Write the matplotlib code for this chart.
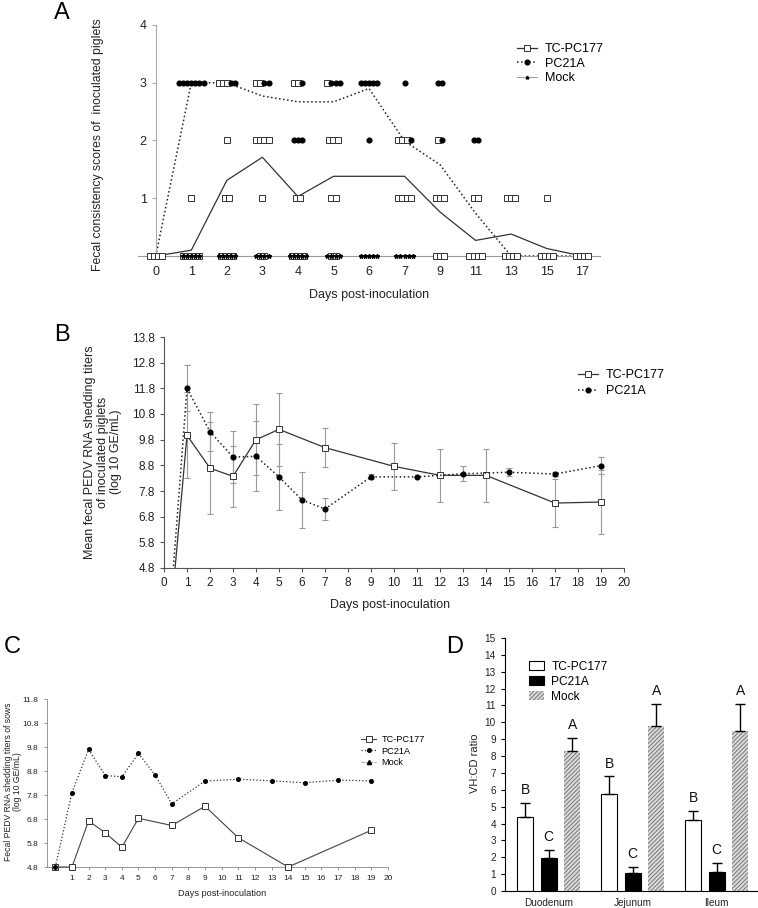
import matplotlib
matplotlib.use('Agg')
import matplotlib.pyplot as plt
from matplotlib.lines import Line2D
from matplotlib.patches import Patch
import numpy as np

plt.rcParams['font.family'] = ['Liberation Sans', 'DejaVu Sans']
plt.rcParams['hatch.linewidth'] = 0.8

# ---------- A: fecal consistency scores ----------
a_days = [0, 1, 2, 3, 4, 5, 6, 7, 9, 11, 13, 15, 17]
a_tc_mean = [0, 0.10, 1.31, 1.71, 1.03, 1.38, 1.38, 1.38, 0.76, 0.27, 0.38, 0.13, 0.0]
a_pc_mean = [0, 3.00, 3.00, 2.77, 2.67, 2.67, 2.90, 1.99, 1.58, 0.74, 0, 0, 0]
a_mock_mean = [0, 0, 0, 0, 0, 0, 0, 0, 0, 0, 0, 0, 0]
# individual piglet scores per day
a_tc_scores = [
    [0, 0, 0, 0],
    [1, 0, 0, 0, 0, 0],
    [3, 3, 3, 2, 1, 1, 0, 0, 0, 0],
    [3, 3, 2, 2, 2, 2, 1, 0, 0],
    [3, 3, 1, 1, 0, 0, 0, 0],
    [3, 2, 2, 2, 1, 1, 0, 0],
    [],
    [2, 2, 2, 1, 1, 1, 1],
    [2, 1, 1, 1, 0, 0, 0],
    [1, 1, 0, 0, 0, 0],
    [1, 1, 1, 0, 0, 0, 0],
    [1, 0, 0, 0, 0],
    [0, 0, 0, 0],
]
a_pc_scores = [
    [],
    [3, 3, 3, 3, 3, 3, 3],
    [3, 3],
    [3, 3],
    [3, 2, 2, 2],
    [3, 3, 3],
    [3, 3, 3, 3, 3, 2],
    [3, 2],
    [3, 3, 2],
    [2, 2],
    [],
    [],
    [],
]
a_mock_scores = [
    [], [0] * 5, [0] * 5, [0] * 4, [0] * 5, [0] * 4, [0] * 5, [0] * 5,
    [], [], [], [], [],
]

# ---------- B: piglet shedding titers ----------
b_tc_days = [0, 1, 2, 3, 4, 5, 7, 10, 12, 14, 17, 19]
b_tc_mean = [0, 9.97, 8.69, 8.37, 9.80, 10.20, 9.49, 8.76, 8.41, 8.41, 7.33, 7.37]
b_tc_err = [0, 1.67, 1.80, 1.20, 1.39, 1.42, 0.76, 0.91, 1.03, 1.02, 0.93, 1.25]
b_pc_days = [0, 1, 2, 3, 4, 5, 6, 7, 9, 11, 13, 15, 17, 19]
b_pc_mean = [0, 11.80, 10.11, 9.12, 9.15, 8.35, 7.45, 7.10, 8.35, 8.35, 8.47, 8.53, 8.46, 8.79]
b_pc_err = [0, 0.90, 0.77, 1.00, 1.36, 1.28, 1.10, 0.43, 0.10, 0, 0.29, 0.15, 0.08, 0.33]

# ---------- C: sow shedding titers ----------
c_tc_days = [0, 1, 2, 3, 4, 5, 7, 9, 11, 14, 19]
c_tc = [4.8, 4.8, 6.72, 6.23, 5.62, 6.83, 6.53, 7.33, 6.02, 4.8, 6.33]
c_pc_days = [0, 1, 2, 3, 4, 5, 6, 7, 9, 11, 13, 15, 17, 19]
c_pc = [4.8, 7.90, 9.70, 8.61, 8.56, 9.53, 8.63, 7.43, 8.38, 8.46, 8.39, 8.31, 8.42, 8.39]

# ---------- D: VH:CD ratio ----------
d_sites = ['Duodenum', 'Jejunum', 'Ileum']
d_tc = [4.37, 5.74, 4.22]
d_tc_err = [0.83, 1.05, 0.55]
d_pc = [1.98, 1.09, 1.15]
d_pc_err = [0.45, 0.32, 0.49]
d_mock = [8.33, 9.76, 9.50]
d_mock_err = [0.77, 1.32, 1.58]
d_tc_letters = ['B', 'B', 'B']
d_pc_letters = ['C', 'C', 'C']
d_mock_letters = ['A', 'A', 'A']

W, H = 758, 908
fig = plt.figure(figsize=(W / 100, H / 100), dpi=100)


def box(l, t, r, b):
    return fig.add_axes([l / W, 1 - b / H, (r - l) / W, (b - t) / H])


sq = dict(marker='s', mfc='white', mec='#333333', mew=0.7)
dot = dict(marker='o', mfc='black', mec='black')

# ===== A =====
axA = box(138, 25, 600, 256)
pos = np.arange(len(a_days))
axA.plot(pos, a_tc_mean, '-', color='#333333', lw=0.9, zorder=2, clip_on=False)
axA.plot(pos, a_pc_mean, ':', color='#222222', lw=1.1, zorder=2, clip_on=False)
axA.plot(pos, a_mock_mean, '-', color='#999999', lw=0.7, zorder=1, clip_on=False)
step = 0.115
for i in range(len(a_days)):
    levels = sorted(set(a_tc_scores[i]) | set(a_pc_scores[i]))
    for lv in levels:
        items = ['tc'] * a_tc_scores[i].count(lv) + ['pc'] * a_pc_scores[i].count(lv)
        offs = (np.arange(len(items)) - (len(items) - 1) / 2) * step
        for kind, o in zip(items, offs):
            if kind == 'tc':
                axA.plot(i + o, lv, ls='none', ms=3.9, zorder=3, clip_on=False, **sq)
            else:
                axA.plot(i + o, lv, ls='none', ms=3.4, zorder=4, clip_on=False, **dot)
    m = a_mock_scores[i]
    if m:
        offs = (np.arange(len(m)) - (len(m) - 1) / 2) * step
        axA.plot(i + offs, m, ls='none', marker='*', ms=3.2, color='black',
                 zorder=5, clip_on=False)
axA.set_xlim(-0.5, 12.5)
axA.set_ylim(0, 4)
for s in ['top', 'right']:
    axA.spines[s].set_visible(False)
axA.spines['left'].set_position(('data', 0))
axA.spines['left'].set_color('#aaaaaa')
axA.spines['bottom'].set_color('#999999')
axA.set_yticks([1, 2, 3, 4])
axA.set_xticks(pos)
axA.set_xticklabels([str(d) for d in a_days])
axA.tick_params(axis='x', length=0, pad=7, labelsize=9, labelcolor='#222222')
axA.tick_params(axis='y', length=3, color='#aaaaaa', labelsize=9, labelcolor='#222222')
fig.text(98 / W, 1 - 145 / H, 'Fecal consistency scores of  inoculated piglets',
         rotation=90, ha='center', va='center', fontsize=8.8, color='#222222')
fig.text(369 / W, 1 - 295 / H, 'Days post-inoculation', ha='center', va='center',
         fontsize=9, color='#222222')
fig.text(62 / W, 1 - 13 / H, 'A', ha='center', va='center', fontsize=17)
hA = [Line2D([], [], color='#333333', lw=0.9, ms=3.9, **sq),
      Line2D([], [], color='#222222', ls=':', lw=1.1, ms=3.4, **dot),
      Line2D([], [], color='#999999', lw=0.7, marker='^', ms=2, mfc='black', mec='black')]
fig.legend(hA, ['TC-PC177', 'PC21A', 'Mock'], loc='upper left',
           bbox_to_anchor=(506 / W, 1 - 32 / H), frameon=False, fontsize=9,
           handlelength=1.6, labelspacing=0.2, handletextpad=0.6)

# ===== B =====
axB = box(164, 337, 624, 568)
axB.errorbar(b_tc_days, b_tc_mean, yerr=b_tc_err, fmt='none', ecolor='#999999',
             elinewidth=0.8, capsize=2.5, capthick=0.8, zorder=1)
axB.errorbar(b_pc_days, b_pc_mean, yerr=b_pc_err, fmt='none', ecolor='#999999',
             elinewidth=0.8, capsize=2.5, capthick=0.8, zorder=1)
axB.plot(b_tc_days, b_tc_mean, '-', color='#333333', lw=0.9, ms=4.8, zorder=3, **sq)
axB.plot(b_pc_days, b_pc_mean, ':', color='#222222', lw=1.1, ms=3.4, zorder=4, **dot)
axB.set_xlim(0, 20)
axB.set_ylim(4.8, 13.8)
b_yt = [4.8 + k for k in range(10)]
axB.set_yticks(b_yt)
axB.set_yticklabels(['%.1f' % v for v in b_yt])
axB.set_xticks(range(21))
for s in ['top', 'right']:
    axB.spines[s].set_visible(False)
for s in ['left', 'bottom']:
    axB.spines[s].set_color('#555555')
    axB.spines[s].set_linewidth(0.8)
axB.tick_params(length=3, color='#555555', labelsize=8.5, labelcolor='#222222')
fig.text(103 / W, 1 - 452 / H,
         'Mean fecal PEDV RNA shedding titers\nof inoculated piglets\n(log 10 GE/mL)',
         rotation=90, ha='center', va='center', fontsize=9, color='#222222',
         multialignment='center', linespacing=1.15)
fig.text(390 / W, 1 - 605 / H, 'Days post-inoculation', ha='center', va='center',
         fontsize=9, color='#222222')
fig.text(62 / W, 1 - 335 / H, 'B', ha='center', va='center', fontsize=17)
hB = [Line2D([], [], color='#333333', lw=0.9, ms=4.8, **sq),
      Line2D([], [], color='#222222', ls=':', lw=1.1, ms=3.4, **dot)]
fig.legend(hB, ['TC-PC177', 'PC21A'], loc='upper left',
           bbox_to_anchor=(567 / W, 1 - 358 / H), frameon=False, fontsize=9,
           handlelength=1.6, labelspacing=0.3, handletextpad=0.6)

# ===== C =====
axC = box(47, 699, 388, 867)
axC.plot(c_tc_days, c_tc, '-', color='#444444', lw=0.8, ms=4.2, zorder=3, clip_on=False, **sq)
axC.plot(c_pc_days, c_pc, ':', color='#333333', lw=0.9, ms=2.6, zorder=4, clip_on=False, **dot)
axC.set_xlim(-0.5, 20)
axC.set_ylim(4.8, 11.8)
c_yt = [4.8 + k for k in range(8)]
axC.set_yticks(c_yt)
axC.set_yticklabels(['%.1f' % v for v in c_yt])
axC.set_xticks(range(1, 21))
for s in ['top', 'right']:
    axC.spines[s].set_visible(False)
for s in ['left', 'bottom']:
    axC.spines[s].set_color('#888888')
    axC.spines[s].set_linewidth(0.6)
axC.tick_params(length=2.5, width=0.6, color='#888888', labelsize=6, labelcolor='#222222')
fig.text(13 / W, 1 - 782 / H, 'Fecal PEDV RNA shedding titers of sows\n(log 10 GE/mL)',
         rotation=90, ha='center', va='center', fontsize=6.2, color='#222222',
         multialignment='center', linespacing=1.1)
fig.text(222 / W, 1 - 893 / H, 'Days post-inoculation', ha='center', va='center',
         fontsize=6.6, color='#222222')
fig.text(12 / W, 1 - 647 / H, 'C', ha='center', va='center', fontsize=17)
hC = [Line2D([], [], color='#444444', lw=0.8, ms=4.2, **sq),
      Line2D([], [], color='#333333', ls=':', lw=0.9, ms=2.6, **dot),
      Line2D([], [], color='#888888', ls='--', lw=0.6, marker='^', ms=3, mfc='black', mec='black')]
fig.legend(hC, ['TC-PC177', 'PC21A', 'Mock'], loc='upper left',
           bbox_to_anchor=(353 / W, 1 - 727 / H), frameon=False, fontsize=6.6,
           handlelength=1.6, labelspacing=0.25, handletextpad=0.6)

# ===== D =====
axD = box(505, 638, 757, 891)
x = np.arange(len(d_sites))
bw = 0.19
groups = [(-0.28, d_tc, d_tc_err, d_tc_letters, dict(color='white', edgecolor='black', lw=0.8)),
          (0.0, d_pc, d_pc_err, d_pc_letters, dict(color='black', edgecolor='black', lw=0.8)),
          (0.28, d_mock, d_mock_err, d_mock_letters,
           dict(color='#dddddd', edgecolor='#808080', lw=0, hatch='////////'))]
for off, vals, err, letters, style in groups:
    axD.bar(x + off, vals, bw, zorder=2, **style)
    axD.errorbar(x + off, vals, yerr=[np.zeros(len(vals)), err], fmt='none',
                 ecolor='black', elinewidth=1, capsize=3.5, capthick=1, zorder=3)
    for xi, v, e, t in zip(x + off, vals, err, letters):
        axD.text(xi, v + e + 0.35, t, ha='center', va='bottom', fontsize=10, color='#111111')
axD.set_xlim(-0.52, 2.48)
axD.set_ylim(0, 15)
axD.set_yticks(range(16))
axD.set_xticks(x)
axD.set_xticklabels(d_sites)
for s in ['top', 'right']:
    axD.spines[s].set_visible(False)
for s in ['left', 'bottom']:
    axD.spines[s].set_linewidth(0.8)
axD.tick_params(axis='y', length=3, labelsize=7.2, labelcolor='#222222')
axD.tick_params(axis='x', length=0, pad=5, labelsize=7.2, labelcolor='#222222')
fig.text(475 / W, 1 - 763 / H, 'VH:CD ratio', rotation=90, ha='center', va='center',
         fontsize=8, color='#222222')
fig.text(455 / W, 1 - 647 / H, 'D', ha='center', va='center', fontsize=17)
hD = [Patch(facecolor='white', edgecolor='black', lw=0.8),
      Patch(facecolor='black', edgecolor='black', lw=0.8),
      Patch(facecolor='#dddddd', edgecolor='#808080', lw=0, hatch='////////')]
fig.legend(hD, ['TC-PC177', 'PC21A', 'Mock'], loc='upper left',
           bbox_to_anchor=(518 / W, 1 - 650 / H), frameon=False, fontsize=8.6,
           handlelength=1.3, handleheight=0.8, labelspacing=0.25, handletextpad=0.6)

fig.savefig('out.png', dpi=100)
